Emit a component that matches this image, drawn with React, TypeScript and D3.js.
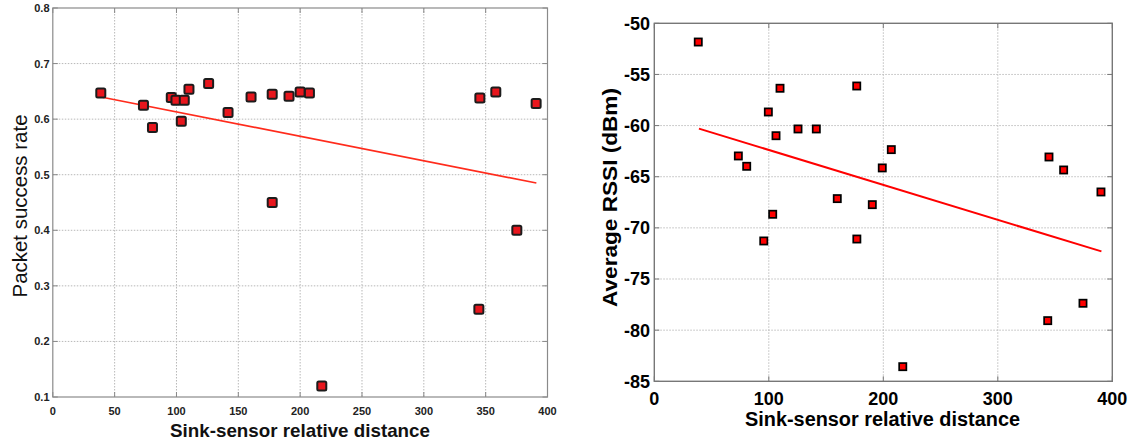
import React from "react";
import * as d3 from "d3";

// ---------- data ----------
const distance = [38.8, 73.3, 80.6, 95.8, 99.6, 103.9, 106.3, 110.1, 126, 141.7, 160.3, 177.4, 177.4, 191, 200, 207.5, 217.5, 344.5, 345.3, 358.2, 375.2, 390.8];
const successRate = [0.647, 0.625, 0.585, 0.639, 0.634, 0.596, 0.634, 0.654, 0.664, 0.612, 0.64, 0.645, 0.45, 0.641, 0.649, 0.647, 0.12, 0.258, 0.638, 0.649, 0.4, 0.628];
const rssiDistance = [38.4, 73.4, 80.7, 95.6, 99.6, 103.4, 106.3, 109.8, 125.5, 141.5, 159.8, 176.8, 176.9, 190.4, 199.1, 207, 217, 343.6, 344.7, 357.5, 374.4, 390.1];
const avgRssi = [-51.83, -62.97, -63.98, -71.28, -58.67, -68.67, -60.99, -56.35, -60.33, -60.33, -67.14, -56.13, -71.09, -67.73, -64.14, -62.35, -83.57, -79.07, -63.07, -64.34, -77.37, -66.49];

const successTrendX = [39, 391];
const successTrendY = [0.64, 0.485];
const rssiTrendX = [39, 390.5];
const rssiTrendY = [-60.3, -72.3];

const leftXTicks = [0, 50, 100, 150, 200, 250, 300, 350, 400];
const leftYTicks = [0.1, 0.2, 0.3, 0.4, 0.5, 0.6, 0.7, 0.8];
const rightXTicks = [0, 100, 200, 300, 400];
const rightYTicks = [-85, -80, -75, -70, -65, -60, -55, -50];

const xLabel = "Sink-sensor relative distance";
const leftYLabel = "Packet success rate";
const rightYLabel = "Average RSSI (dBm)";

const FONT = "'Liberation Sans', Arial, Helvetica, sans-serif";

export default function App() {
  // left panel
  const L = { x0: 52.8, x1: 547.5, y0: 8, y1: 397 };
  const lx = d3.scaleLinear().domain([0, 400]).range([L.x0, L.x1]);
  const ly = d3.scaleLinear().domain([0.1, 0.8]).range([L.y1, L.y0]);
  // right panel
  const R = { x0: 654.3, x1: 1112.3, y0: 23.3, y1: 381.3 };
  const rx = d3.scaleLinear().domain([0, 400]).range([R.x0, R.x1]);
  const ry = d3.scaleLinear().domain([-85, -50]).range([R.y1, R.y0]);

  const lineGen = (sx: any, sy: any) =>
    d3.line<[number, number]>().x((d) => sx(d[0])).y((d) => sy(d[1]));

  const leftTrend = lineGen(lx, ly)(successTrendX.map((x, i) => [x, successTrendY[i]]) as [number, number][]);
  const rightTrend = lineGen(rx, ry)(rssiTrendX.map((x, i) => [x, rssiTrendY[i]]) as [number, number][]);

  const tick = 5;

  return (
    <svg
      width={1133}
      height={441}
      style={{ position: "absolute", left: 0, top: 0, background: "#fff" }}
      fontFamily={FONT}
    >
      <rect x={0} y={0} width={1133} height={441} fill="#fff" />

      {/* ================= LEFT PANEL ================= */}
      <g>
        {leftXTicks.slice(1, -1).map((t) => (
          <line key={"lgx" + t} x1={lx(t)} x2={lx(t)} y1={L.y0} y2={L.y1} stroke="#b8b8b8" strokeWidth={1} strokeDasharray="1.5,1.5" />
        ))}
        {leftYTicks.slice(1, -1).map((t) => (
          <line key={"lgy" + t} x1={L.x0} x2={L.x1} y1={ly(t)} y2={ly(t)} stroke="#b8b8b8" strokeWidth={1} strokeDasharray="1.5,1.5" />
        ))}
        {leftXTicks.map((t) => (
          <g key={"ltx" + t}>
            <line x1={lx(t)} x2={lx(t)} y1={L.y1} y2={L.y1 - tick} stroke="#888" />
            <line x1={lx(t)} x2={lx(t)} y1={L.y0} y2={L.y0 + tick} stroke="#888" />
            <text x={lx(t)} y={415} textAnchor="middle" fontSize={11} fontWeight="bold" fill="#222">
              {t}
            </text>
          </g>
        ))}
        {leftYTicks.map((t) => (
          <g key={"lty" + t}>
            <line x1={L.x0} x2={L.x0 + tick} y1={ly(t)} y2={ly(t)} stroke="#888" />
            <line x1={L.x1} x2={L.x1 - tick} y1={ly(t)} y2={ly(t)} stroke="#888" />
            <text x={49.5} y={ly(t)} dy="0.36em" textAnchor="end" fontSize={11} fontWeight="bold" fill="#222">
              {t.toFixed(1)}
            </text>
          </g>
        ))}
        <rect x={L.x0} y={L.y0} width={L.x1 - L.x0} height={L.y1 - L.y0} fill="none" stroke="#8a8a8a" strokeWidth={1.2} />
        <path d={leftTrend || ""} fill="none" stroke="#ff2b1c" strokeWidth={1.6} />
        {distance.map((d, i) => (
          <rect
            key={"lm" + i}
            x={lx(d) - 4.5}
            y={ly(successRate[i]) - 4.5}
            width={9}
            height={9}
            rx={1.5}
            fill="#e8161d"
            stroke="#1c1c1c"
            strokeWidth={2}
          />
        ))}
        <text x={300} y={437} textAnchor="middle" fontSize={19} fontWeight="bold" fill="#111" textLength={260} lengthAdjust="spacingAndGlyphs">
          {xLabel}
        </text>
        <text
          transform={`translate(27,206) rotate(-90)`}
          textAnchor="middle"
          fontSize={20}
          fill="#111"
          textLength={183}
          lengthAdjust="spacingAndGlyphs"
        >
          {leftYLabel}
        </text>
      </g>

      {/* ================= RIGHT PANEL ================= */}
      <g>
        {rightXTicks.slice(1, -1).map((t) => (
          <line key={"rgx" + t} x1={rx(t)} x2={rx(t)} y1={R.y0} y2={R.y1} stroke="#bdbdbd" strokeWidth={1} strokeDasharray="1.5,1.5" />
        ))}
        {rightYTicks.slice(1, -1).map((t) => (
          <line key={"rgy" + t} x1={R.x0} x2={R.x1} y1={ry(t)} y2={ry(t)} stroke="#bdbdbd" strokeWidth={1} strokeDasharray="1.5,1.5" />
        ))}
        {rightXTicks.map((t) => (
          <g key={"rtx" + t}>
            <line x1={rx(t)} x2={rx(t)} y1={R.y1} y2={R.y1 - tick} stroke="#777" />
            <line x1={rx(t)} x2={rx(t)} y1={R.y0} y2={R.y0 + tick} stroke="#777" />
            <text x={rx(t)} y={405} textAnchor="middle" fontSize={18} fontWeight="bold" fill="#000">
              {t}
            </text>
          </g>
        ))}
        {rightYTicks.map((t) => (
          <g key={"rty" + t}>
            <line x1={R.x0} x2={R.x0 + tick} y1={ry(t)} y2={ry(t)} stroke="#777" />
            <line x1={R.x1} x2={R.x1 - tick} y1={ry(t)} y2={ry(t)} stroke="#777" />
            <text x={650} y={ry(t)} dy="0.36em" textAnchor="end" fontSize={18} fontWeight="bold" fill="#000">
              {t}
            </text>
          </g>
        ))}
        <rect x={R.x0} y={R.y0} width={R.x1 - R.x0} height={R.y1 - R.y0} fill="none" stroke="#777" strokeWidth={1.4} />
        <path d={rightTrend || ""} fill="none" stroke="#ff0000" strokeWidth={2} />
        {rssiDistance.map((d, i) => (
          <rect
            key={"rm" + i}
            x={rx(d) - 3.6}
            y={ry(avgRssi[i]) - 3.6}
            width={7.2}
            height={7.2}
            fill="#ff0000"
            stroke="#000"
            strokeWidth={1.7}
          />
        ))}
        <text x={882.5} y={426} textAnchor="middle" fontSize={20} fontWeight="bold" fill="#000" textLength={275} lengthAdjust="spacingAndGlyphs">
          {xLabel}
        </text>
        <text
          transform={`translate(617,197.5) rotate(-90)`}
          textAnchor="middle"
          fontSize={20}
          fontWeight="bold"
          fill="#000"
          textLength={219}
          lengthAdjust="spacingAndGlyphs"
        >
          {rightYLabel}
        </text>
      </g>
    </svg>
  );
}
